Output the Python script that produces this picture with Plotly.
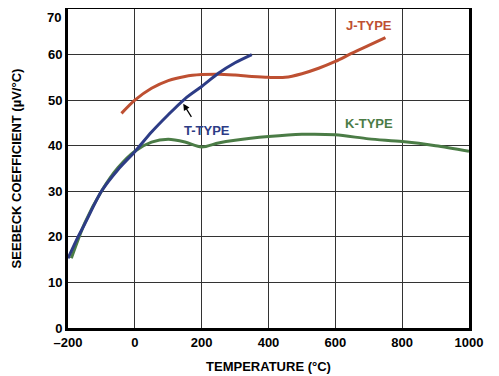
import plotly.graph_objects as go

# T-type
t_x = [-200, -170, -150, -100, -50, 0, 50, 100, 150, 200, 250, 300, 350]
t_y = [15.3, 20.0, 22.8, 30.0, 34.8, 38.7, 43.0, 46.8, 50.3, 53.0, 55.9, 58.2, 60.0]
# J-type
j_x = [-40, 0, 50, 100, 150, 200, 250, 300, 350, 400, 450, 500, 550, 600, 650, 700, 750]
j_y = [47.1, 50.0, 52.6, 54.3, 55.2, 55.6, 55.7, 55.5, 55.2, 55.0, 55.0, 55.8, 57.0, 58.5, 60.3, 62.0, 63.7]
# K-type
k_x = [-190, -150, -100, -50, 0, 50, 100, 150, 200, 250, 300, 400, 500, 600, 700, 800, 900, 1000]
k_y = [15.3, 23.0, 30.0, 35.2, 38.8, 40.8, 41.4, 40.8, 39.7, 40.6, 41.2, 42.0, 42.5, 42.4, 41.5, 40.9, 40.0, 38.8]

x_ticks = [-200, 0, 200, 400, 600, 800, 1000]
x_ticktext = ["\u2013200", "0", "200", "400", "600", "800", "1000"]
y_ticks = [0, 10, 20, 30, 40, 50, 60, 70]

RED = "#BE5032"
BLUE = "#2D3C86"
GREEN = "#4B7C46"

fig = go.Figure()
fig.add_trace(go.Scatter(x=k_x, y=k_y, mode="lines", line=dict(color=GREEN, width=3, shape="spline", smoothing=0.8)))
fig.add_trace(go.Scatter(x=j_x, y=j_y, mode="lines", line=dict(color=RED, width=3, shape="spline", smoothing=0.8)))
fig.add_trace(go.Scatter(x=t_x, y=t_y, mode="lines", line=dict(color=BLUE, width=3, shape="spline", smoothing=0.8)))

FONT = "Liberation Sans, Arial, sans-serif"
font_lbl = dict(family=FONT, size=13, color="black")
fig.add_annotation(x=700, y=66.3, text="<b>J-TYPE</b>", showarrow=False, font=dict(font_lbl, color=RED))
fig.add_annotation(x=700, y=44.9, text="<b>K-TYPE</b>", showarrow=False, font=dict(font_lbl, color=GREEN))
fig.add_annotation(x=215, y=43.3, text="<b>T-TYPE</b>", showarrow=False, font=dict(font_lbl, color=BLUE))
fig.add_annotation(x=145, y=49.2, ax=172, ay=46.0, axref="x", ayref="y", text="", showarrow=True,
                   arrowhead=2, arrowsize=1, arrowwidth=1.3, arrowcolor="black")

# top tick label drawn as annotation, nudged down so it stays inside the page
top_tick = y_ticks[-1]
fig.add_annotation(x=0, xref="paper", y=top_tick, yref="y", text=f"<b>{top_tick}</b>", showarrow=False,
                   xanchor="right", yanchor="top", xshift=-5, yshift=1, font=font_lbl)

axis_common = dict(showline=True, linecolor="black", linewidth=3, mirror=True, automargin=False,
                   showgrid=True, gridcolor="#333333", gridwidth=1, zeroline=False,
                   ticks="", ticklabeloverflow="allow",
                   tickfont=dict(family=FONT, size=13, color="black"))

# page body has an 8px default margin, so the figure is offset by 8px
fig.update_layout(
    width=491, height=368,
    margin=dict(l=60, r=30, t=1, b=48),
    plot_bgcolor="white", paper_bgcolor="white",
    showlegend=False,
    font=dict(family=FONT, color="black"),
    xaxis=dict(axis_common, range=[-200, 1000], tickvals=x_ticks, ticktext=[f"<b>{t}</b>" for t in x_ticktext],
               title=dict(text="<b>TEMPERATURE (°C)</b>", font=dict(size=13), standoff=14)),
    yaxis=dict(axis_common, range=[0, 70], tickvals=y_ticks,
               ticktext=[f"<b>{t}</b>" if t != top_tick else "" for t in y_ticks],
               title=dict(text="<b>SEEBECK COEFFICIENT (µV/°C)</b>", font=dict(size=13), standoff=24)),
)

fig.write_html("out.html")
